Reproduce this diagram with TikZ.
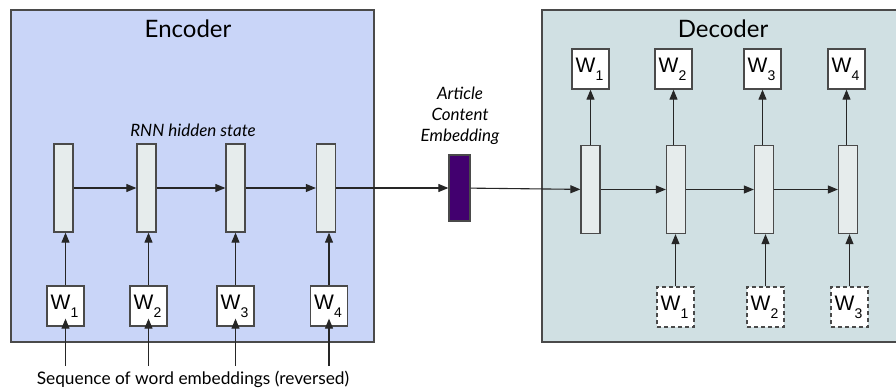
\documentclass[tikz,border=0pt]{standalone}
\usepackage{fontspec}
\setmainfont{Lato}
\newfontfamily\wfont{Liberation Sans}
\usetikzlibrary{arrows.meta}
\definecolor{encfill}{HTML}{C9D5F8}
\definecolor{decfill}{HTML}{D0E0E3}
\definecolor{rnnfill}{HTML}{E6ECEC}
\definecolor{edgecol}{HTML}{4A4A4A}
\definecolor{embfill}{HTML}{42006F}
\tikzset{
  panel/.style={draw=edgecol, line width=1.4pt},
  rnn/.style={draw=edgecol, fill=rnnfill, line width=1.3pt, minimum width=19pt, minimum height=88pt, inner sep=0pt},
  wbox/.style={draw=edgecol, fill=white, line width=1.3pt, minimum width=37pt, minimum height=40pt, inner sep=0pt, font=\wfont\fontsize{21}{21}\selectfont},
  wdash/.style={wbox, dash pattern=on 4pt off 3pt},
  arr/.style={-{Triangle[length=10pt,width=8pt]}, draw=black!85, line width=1.1pt},
  lbl/.style={font=\fontsize{17}{21}\selectfont\itshape, align=center, inner sep=0pt},
}
\newcommand{\wlab}[1]{\hspace*{-2pt}W\raisebox{-8pt}{\fontsize{14}{14}\selectfont #1}}
\begin{document}
\begin{tikzpicture}[x=1pt,y=-1pt]
\useasboundingbox (0,0) rectangle (896,390);
% panels
\draw[panel, fill=encfill] (11,10) rectangle (374,342);
\draw[panel, fill=decfill] (542,10) rectangle (905,342);
\node[font=\fontsize{24}{24}\selectfont] (enctitle) at (188,29) {Encoder};
\node[font=\fontsize{24}{24}\selectfont] (dectitle) at (723,29) {Decoder};
\node[lbl] (rnnlbl) at (193,130) {RNN hidden state};
\node[lbl] (artlbl) at (460,116) {Article\\Content\\Embedding};
% encoder
\foreach \i/\x in {1/63.5,2/146.5,3/235.5,4/326}{
  \node[rnn] (e\i) at (\x,188) {};
}
\foreach \i/\x in {1/65.5,2/148.5,3/235.5,4/329}{
  \node[wbox] (ew\i) at (\x,306) {\wlab{\i}};
  \coordinate (ein\i) at (\x,366);
  \draw[arr] (ew\i) -- (e\i.south -| ew\i);
  \draw[arr, shorten >=-8pt] (ein\i) -- (ew\i.south);
}
\foreach \a/\b in {1/2,2/3,3/4}{
  \draw[arr] (e\a) -- (e\b);
}
\node[font=\fontsize{17.3}{17.3}\selectfont] (seq) at (193,379) {Sequence of word embeddings (reversed)};
% embedding
\node[draw=edgecol, line width=1.3pt, fill=embfill, minimum width=21pt, minimum height=66pt, inner sep=0pt] (emb) at (459.5,188) {};
\draw[arr] (e4) -- (emb);
% decoder
\foreach \i/\x in {1/590.5,2/676,3/764,4/848}{
  \node[rnn] (d\i) at (\x,189.5) {};
}
\foreach \i/\x in {1/590.5,2/673.5,3/762.5,4/846.5}{
  \node[wbox] (dw\i) at (\x,69) {\wlab{\i}};
  \draw[arr] (d\i.north -| dw\i) -- (dw\i);
}
\foreach \i/\j/\x in {1/2/675.5,2/3/765.5,3/4/849.5}{
  \node[wdash] (di\i) at (\x,307) {\wlab{\i}};
  \draw[arr] (di\i) -- (d\j.south -| di\i);
}
\draw[arr] (emb) -- (d1);
\foreach \a/\b in {1/2,2/3,3/4}{
  \draw[arr] (d\a) -- (d\b);
}
\end{tikzpicture}
\end{document}
